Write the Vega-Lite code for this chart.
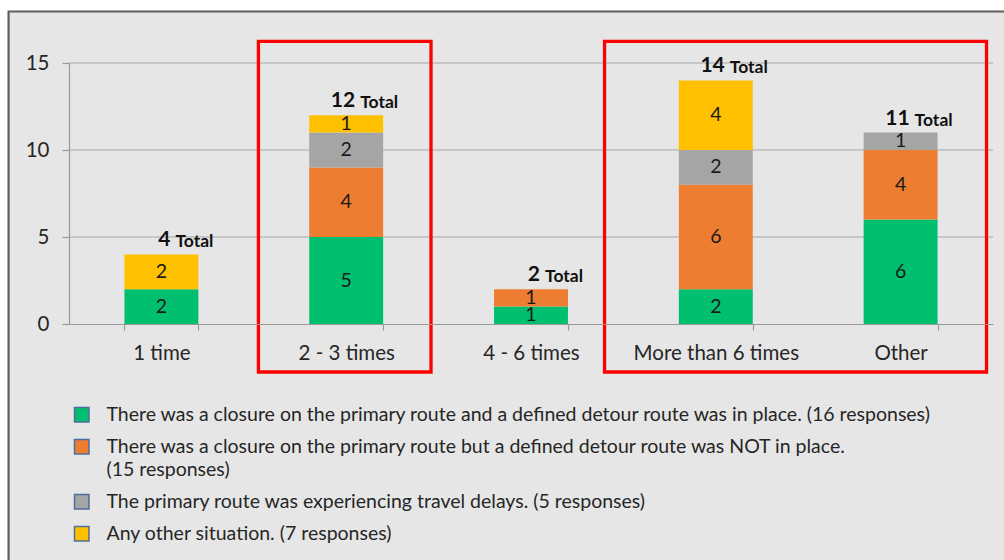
{
  "$schema": "https://vega.github.io/schema/vega-lite/v6.json",
  "width": 924,
  "height": 261,
  "autosize": {"type": "none"},
  "padding": {"left": 69, "top": 63, "right": 11, "bottom": 236},
  "background": "#ffffff",
  "config": {
    "view": {"stroke": null},
    "font": "Lato",
    "text": {"font": "Lato", "color": "#1a1a1a"}
  },
  "datasets": {
    "segments": [
      {"category": "1 time", "situation": "There was a closure on the primary route and a defined detour route was in place. (16 responses)", "k": 1, "value": 2},
      {"category": "1 time", "situation": "Any other situation. (7 responses)", "k": 4, "value": 2},
      {"category": "2 - 3 times", "situation": "There was a closure on the primary route and a defined detour route was in place. (16 responses)", "k": 1, "value": 5},
      {"category": "2 - 3 times", "situation": "There was a closure on the primary route but a defined detour route was NOT in place. (15 responses)", "k": 2, "value": 4},
      {"category": "2 - 3 times", "situation": "The primary route was experiencing travel delays. (5 responses)", "k": 3, "value": 2},
      {"category": "2 - 3 times", "situation": "Any other situation. (7 responses)", "k": 4, "value": 1},
      {"category": "4 - 6 times", "situation": "There was a closure on the primary route and a defined detour route was in place. (16 responses)", "k": 1, "value": 1},
      {"category": "4 - 6 times", "situation": "There was a closure on the primary route but a defined detour route was NOT in place. (15 responses)", "k": 2, "value": 1},
      {"category": "More than 6 times", "situation": "There was a closure on the primary route and a defined detour route was in place. (16 responses)", "k": 1, "value": 2},
      {"category": "More than 6 times", "situation": "There was a closure on the primary route but a defined detour route was NOT in place. (15 responses)", "k": 2, "value": 6},
      {"category": "More than 6 times", "situation": "The primary route was experiencing travel delays. (5 responses)", "k": 3, "value": 2},
      {"category": "More than 6 times", "situation": "Any other situation. (7 responses)", "k": 4, "value": 4},
      {"category": "Other", "situation": "There was a closure on the primary route and a defined detour route was in place. (16 responses)", "k": 1, "value": 6},
      {"category": "Other", "situation": "There was a closure on the primary route but a defined detour route was NOT in place. (15 responses)", "k": 2, "value": 4},
      {"category": "Other", "situation": "The primary route was experiencing travel delays. (5 responses)", "k": 3, "value": 1}
    ],
    "totals": [
      {"category": "1 time", "total": 4},
      {"category": "2 - 3 times", "total": 12},
      {"category": "4 - 6 times", "total": 2},
      {"category": "More than 6 times", "total": 14},
      {"category": "Other", "total": 11}
    ],
    "frame": [{"x1": -0.327, "x2": 6, "y1": 17.96, "y2": -20}],
    "grid": [{"v": 5}, {"v": 10}, {"v": 15}],
    "boxes": [
      {"x1": 1.025, "x2": 1.959, "y1": 16.24, "y2": -2.76},
      {"x1": 2.898, "x2": 4.965, "y1": 16.24, "y2": -2.76}
    ]
  },
  "layer": [
    {
      "data": {"name": "frame"},
      "mark": {"type": "rect", "fill": "#e6e6e6", "stroke": "#5e5e5e", "strokeWidth": 2.2},
      "encoding": {
        "x": {"field": "x1", "type": "quantitative", "scale": {"domain": [0, 5], "nice": false, "zero": false}, "axis": null},
        "x2": {"field": "x2"},
        "y": {"field": "y1", "type": "quantitative", "scale": {"domain": [0, 15], "nice": false}, "axis": null},
        "y2": {"field": "y2"}
      }
    },
    {
      "data": {"name": "grid"},
      "mark": {"type": "rule", "color": "#a6a6a6", "strokeWidth": 1.2},
      "encoding": {
        "y": {"field": "v", "type": "quantitative", "scale": {"domain": [0, 15], "nice": false}, "axis": null}
      }
    },
    {
      "data": {"name": "segments"},
      "transform": [
        {"stack": "value", "groupby": ["category"], "sort": [{"field": "k"}], "as": ["y0", "y1"]}
      ],
      "mark": {"type": "bar"},
      "encoding": {
        "x": {
          "field": "category", "type": "nominal",
          "scale": {"domain": ["1 time", "2 - 3 times", "4 - 6 times", "More than 6 times", "Other"], "paddingInner": 0.6, "paddingOuter": 0.3},
          "axis": {
            "title": null, "labelAngle": 0, "labelFontSize": 20.5, "labelFont": "Lato", "labelColor": "#262626",
            "labelPadding": 13, "tickBand": "extent", "tickSize": 6, "tickColor": "#999999", "domainColor": "#999999",
            "tickWidth": 1.2, "domainWidth": 1.2, "zindex": 1
          }
        },
        "y": {
          "field": "y0", "type": "quantitative",
          "scale": {"domain": [0, 15], "nice": false},
          "axis": {
            "title": null, "values": [0, 5, 10, 15], "grid": false, "tickSize": 7, "labelFontSize": 20.5, "labelFont": "Lato",
            "labelColor": "#262626", "labelPadding": 13, "tickColor": "#999999", "domainColor": "#999999",
            "tickWidth": 1.2, "domainWidth": 1.2, "zindex": 1
          }
        },
        "y2": {"field": "y1"},
        "color": {
          "field": "situation", "type": "nominal",
          "scale": {
            "domain": [
              "There was a closure on the primary route and a defined detour route was in place. (16 responses)",
              "There was a closure on the primary route but a defined detour route was NOT in place. (15 responses)",
              "The primary route was experiencing travel delays. (5 responses)",
              "Any other situation. (7 responses)"
            ],
            "range": ["#00bf6f", "#ed7d31", "#a5a5a5", "#ffc000"]
          },
          "legend": {
            "orient": "none", "legendX": 3, "legendY": 342, "direction": "vertical", "title": null, "padding": 0,
            "symbolType": "square", "symbolSize": 210, "symbolStrokeColor": "#4f6d9a", "symbolStrokeWidth": 1.5,
            "labelFont": "Lato", "labelFontSize": 19.5, "labelColor": "#262626", "labelLimit": 950, "labelOffset": 15,
            "rowPadding": 11,
            "labelExpr": "datum.label == 'There was a closure on the primary route but a defined detour route was NOT in place. (15 responses)' ? ['There was a closure on the primary route but a defined detour route was NOT in place.', '(15 responses)'] : datum.label",
            "encode": {"labels": {"update": {"lineHeight": {"value": 23}}}}
          }
        },
        "order": {"field": "k"}
      }
    },
    {
      "data": {"name": "segments"},
      "transform": [
        {"stack": "value", "groupby": ["category"], "sort": [{"field": "k"}], "as": ["y0", "y1"]},
        {"calculate": "(datum.y0 + datum.y1) / 2", "as": "mid"}
      ],
      "mark": {"type": "text", "fontSize": 19.5, "baseline": "middle", "align": "center"},
      "encoding": {
        "x": {"field": "category", "type": "nominal", "scale": {"domain": ["1 time", "2 - 3 times", "4 - 6 times", "More than 6 times", "Other"], "paddingInner": 0.6, "paddingOuter": 0.3}, "axis": null},
        "y": {"field": "mid", "type": "quantitative", "scale": {"domain": [0, 15], "nice": false}, "axis": null},
        "text": {"field": "value", "type": "quantitative"}
      }
    },
    {
      "data": {"name": "totals"},
      "mark": {"type": "text", "fontSize": 21, "fontWeight": "bold", "align": "right", "baseline": "alphabetic", "dx": 9, "dy": -8, "color": "#111111"},
      "encoding": {
        "x": {"field": "category", "type": "nominal", "scale": {"domain": ["1 time", "2 - 3 times", "4 - 6 times", "More than 6 times", "Other"], "paddingInner": 0.6, "paddingOuter": 0.3}, "axis": null},
        "y": {"field": "total", "type": "quantitative", "scale": {"domain": [0, 15], "nice": false}, "axis": null},
        "text": {"field": "total", "type": "quantitative"}
      }
    },
    {
      "data": {"name": "totals"},
      "mark": {"type": "text", "text": "Total", "fontSize": 17.5, "fontWeight": "bold", "align": "left", "baseline": "alphabetic", "dx": 14, "dy": -7, "color": "#111111"},
      "encoding": {
        "x": {"field": "category", "type": "nominal", "scale": {"domain": ["1 time", "2 - 3 times", "4 - 6 times", "More than 6 times", "Other"], "paddingInner": 0.6, "paddingOuter": 0.3}, "axis": null},
        "y": {"field": "total", "type": "quantitative", "scale": {"domain": [0, 15], "nice": false}, "axis": null}
      }
    },
    {
      "data": {"name": "boxes"},
      "mark": {"type": "rect", "filled": false, "stroke": "#ff0000", "strokeWidth": 3.3},
      "encoding": {
        "x": {"field": "x1", "type": "quantitative", "scale": {"domain": [0, 5], "nice": false, "zero": false}, "axis": null},
        "x2": {"field": "x2"},
        "y": {"field": "y1", "type": "quantitative", "scale": {"domain": [0, 15], "nice": false}, "axis": null},
        "y2": {"field": "y2"}
      }
    }
  ],
  "resolve": {"scale": {"x": "independent"}, "axis": {"x": "independent", "y": "independent"}}
}
